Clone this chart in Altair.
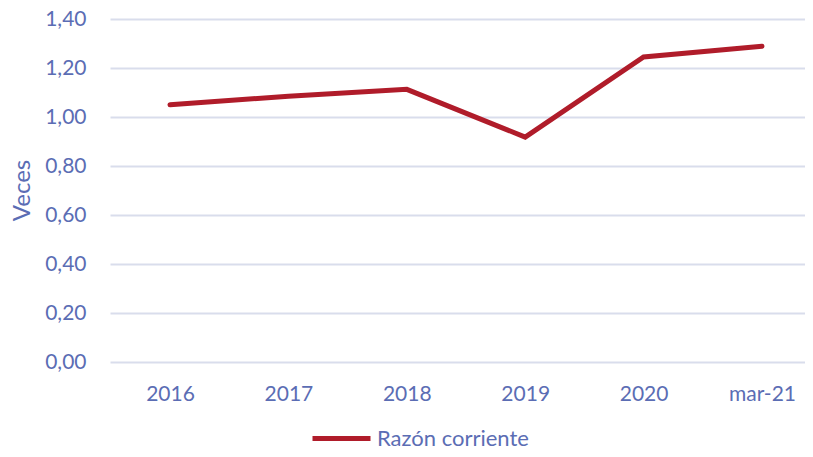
import altair as alt
import pandas as pd

periods = ["2016", "2017", "2018", "2019", "2020", "mar-21"]
values = [1.05, 1.085, 1.113, 0.918, 1.245, 1.289]
series = ["Razón corriente"] * len(periods)

df = pd.DataFrame({"periodo": periods, "valor": values, "serie": series})

TEXT = "#5B6DB4"
LINE = "#B01C2A"
GRID = "#D9DDEC"
FONT = "Lato"

chart = alt.Chart(df).mark_line(strokeWidth=5, strokeCap="round", strokeJoin="miter").encode(
    x=alt.X("periodo:N", sort=periods,
            scale=alt.Scale(type="point", padding=0.435, align=0.5825),
            axis=alt.Axis(title=None, labelAngle=0, domain=False, ticks=False,
                          labelPadding=21, labelFontSize=21, labelColor=TEXT,
                          labelFont=FONT, grid=False)),
    y=alt.Y("valor:Q", scale=alt.Scale(domain=[0, 1.4], nice=False),
            axis=alt.Axis(title="Veces", values=[0, 0.2, 0.4, 0.6, 0.8, 1.0, 1.2, 1.4],
                          labelExpr="replace(format(datum.value, '.2f'), '.', ',')",
                          domain=False, ticks=False, tickSize=0, labelPadding=24,
                          labelFontSize=21, labelColor=TEXT, labelFont=FONT,
                          gridColor=GRID, gridWidth=2,
                          titleFontSize=24, titleColor=TEXT, titleFont=FONT,
                          titleFontWeight="normal", titleAngle=-90,
                          titleX=-88, titleY=171, titleAlign="center",
                          titleBaseline="middle")),
    color=alt.Color("serie:N", scale=alt.Scale(range=[LINE]),
                    legend=alt.Legend(title=None, orient="none", legendX=200, legendY=388,
                                      symbolType="stroke", symbolSize=3364,
                                      symbolStrokeWidth=5, labelOffset=4,
                                      labelFontSize=22, labelColor=TEXT, labelFont=FONT,
                                      padding=0)),
).properties(
    width=695, height=343,
    autosize=alt.AutoSizeParams(type="none"),
    padding={"left": 102, "top": 11, "right": 0, "bottom": 87},
).configure_view(stroke=None)

chart.save("out.html", embed_options={"renderer": "svg", "actions": False})
